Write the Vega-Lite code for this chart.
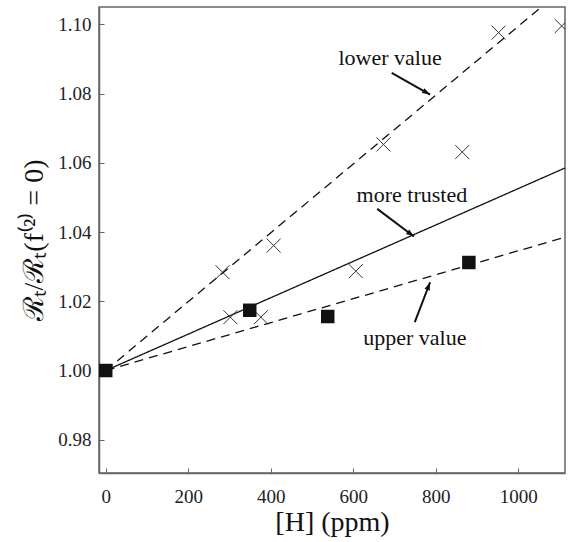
{
  "$schema": "https://vega.github.io/schema/vega-lite/v6.json",
  "width": 466,
  "height": 466,
  "autosize": "none",
  "padding": {"left": 99, "top": 7, "right": 3, "bottom": 69},
  "background": "white",
  "config": {
    "view": {"stroke": "#666", "strokeWidth": 1.5},
    "font": "Liberation Serif",
    "axis": {
      "domainColor": "#666", "domainWidth": 1.5, "tickColor": "#666", "tickWidth": 1,
      "grid": false, "labelFont": "Liberation Serif", "labelFontSize": 19, "labelColor": "#222",
      "titleFont": "Liberation Serif", "titleFontWeight": "normal", "titleColor": "#111"
    }
  },
  "datasets": {
    "lines": [
      {"fit": "lower", "H": 0, "R": 1.0},
      {"fit": "lower", "H": 1113, "R": 1.1107},
      {"fit": "trusted", "H": 0, "R": 1.0},
      {"fit": "trusted", "H": 1113, "R": 1.0585},
      {"fit": "upper", "H": 0, "R": 1.0},
      {"fit": "upper", "H": 1113, "R": 1.0385}
    ],
    "squares": [
      {"H": 0, "R": 1.0},
      {"H": 349, "R": 1.0174},
      {"H": 538, "R": 1.0156},
      {"H": 880, "R": 1.0312}
    ],
    "crosses": [
      {"H": 283, "R": 1.0284},
      {"H": 407, "R": 1.0361},
      {"H": 302, "R": 1.0154},
      {"H": 376, "R": 1.0154},
      {"H": 606, "R": 1.0287},
      {"H": 673, "R": 1.0653},
      {"H": 864, "R": 1.0631},
      {"H": 952, "R": 1.0976},
      {"H": 1105, "R": 1.0995}
    ],
    "notes": [
      {"label": "lower value", "tx": 689, "ty": 1.0902, "H": 693, "R": 1.086, "H2": 786, "R2": 1.0797},
      {"label": "more trusted", "tx": 742, "ty": 1.0506, "H": 658, "R": 1.0467, "H2": 747, "R2": 1.0387},
      {"label": "upper value", "tx": 749, "ty": 1.0093, "H": 749, "R": 1.014, "H2": 786, "R2": 1.0255}
    ]
  },
  "encoding": {
    "x": {
      "field": "H", "type": "quantitative",
      "scale": {"domain": [-16.3, 1113], "nice": false, "zero": false},
      "axis": {"title": "[H] (ppm)", "titleFontSize": 28, "values": [0, 200, 400, 600, 800, 1000], "format": "d", "tickSize": -5, "labelPadding": 19, "titlePadding": 2, "labelFlush": false}
    },
    "y": {
      "field": "R", "type": "quantitative",
      "scale": {"domain": [0.9704, 1.105], "nice": false, "zero": false},
      "axis": {"title": "ℛₜ/ℛₜ(f⁽²⁾ = 0)", "titleFontSize": 28, "values": [0.98, 1.0, 1.02, 1.04, 1.06, 1.08, 1.1], "format": ".2f", "tickSize": -5, "labelPadding": 13, "titlePadding": 9, "labelFlush": false}
    }
  },
  "layer": [
    {
      "data": {"name": "lines"},
      "mark": {"type": "line", "color": "#111", "strokeWidth": 1.3, "clip": true},
      "encoding": {
        "detail": {"field": "fit"},
        "strokeDash": {"field": "fit", "type": "nominal", "scale": {"domain": ["lower", "trusted", "upper"], "range": [[9, 6], [1, 0], [9, 6]]}, "legend": null}
      }
    },
    {
      "data": {"name": "crosses"},
      "mark": {"type": "point", "shape": "M-1,-1L1,1M-1,1L1,-1", "size": 196, "filled": false, "stroke": "#333", "strokeWidth": 1, "opacity": 1, "clip": true}
    },
    {
      "data": {"name": "squares"},
      "mark": {"type": "point", "shape": "square", "size": 182, "filled": true, "color": "#111", "opacity": 1, "clip": true}
    },
    {
      "data": {"name": "notes"},
      "mark": {"type": "rule", "color": "#111", "strokeWidth": 2},
      "encoding": {"x2": {"field": "H2"}, "y2": {"field": "R2"}}
    },
    {
      "data": {"name": "notes"},
      "transform": [{"filter": "datum.label == 'lower value'"}],
      "mark": {"type": "point", "shape": "M0,0L-0.35,1L0.35,1Z", "size": 256, "filled": true, "color": "#111", "opacity": 1, "angle": 120},
      "encoding": {"x": {"field": "H2", "type": "quantitative"}, "y": {"field": "R2", "type": "quantitative"}}
    },
    {
      "data": {"name": "notes"},
      "transform": [{"filter": "datum.label == 'more trusted'"}],
      "mark": {"type": "point", "shape": "M0,0L-0.35,1L0.35,1Z", "size": 256, "filled": true, "color": "#111", "opacity": 1, "angle": 127},
      "encoding": {"x": {"field": "H2", "type": "quantitative"}, "y": {"field": "R2", "type": "quantitative"}}
    },
    {
      "data": {"name": "notes"},
      "transform": [{"filter": "datum.label == 'upper value'"}],
      "mark": {"type": "point", "shape": "M0,0L-0.35,1L0.35,1Z", "size": 256, "filled": true, "color": "#111", "opacity": 1, "angle": 21},
      "encoding": {"x": {"field": "H2", "type": "quantitative"}, "y": {"field": "R2", "type": "quantitative"}}
    },
    {
      "data": {"name": "notes"},
      "mark": {"type": "text", "font": "Liberation Serif", "fontSize": 22, "color": "#111", "align": "center", "baseline": "middle"},
      "encoding": {"x": {"field": "tx", "type": "quantitative"}, "y": {"field": "ty", "type": "quantitative"}, "text": {"field": "label"}}
    }
  ]
}
